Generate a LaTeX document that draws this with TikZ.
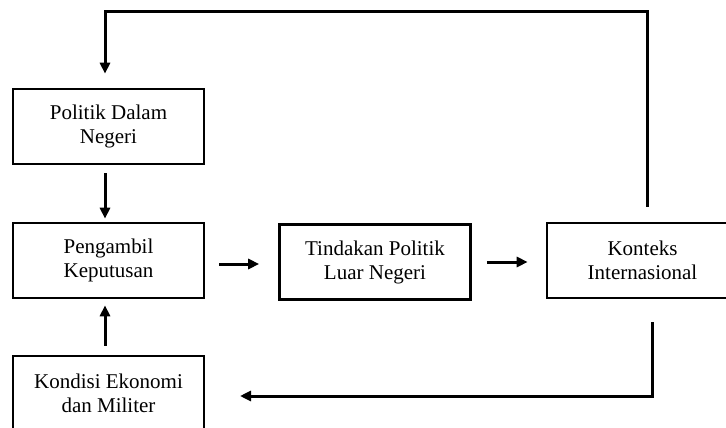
\documentclass[tikz,border=0pt]{standalone}
\usepackage{fontspec}
\setmainfont{Liberation Serif}
\usetikzlibrary{arrows.meta}
\begin{document}
\begin{tikzpicture}[x=1pt, y=-1pt,
    box/.style={draw, line width=2.6pt, minimum width=191pt, minimum height=75pt, align=center, inner sep=0pt, font=\fontsize{21}{24}\selectfont},
    arr/.style={line width=3pt, -{Triangle[length=11pt,width=10pt]}}]
        \useasboundingbox (0, 0) rectangle (726, 428);
        \clip (0, 0) rectangle (726, 428);

        \node[box] (pol) at (108.5, 126.5) {Politik Dalam\\Negeri};
        \node[box] (pen) at (108.5, 260.5) {Pengambil\\Keputusan};
        \node[box] (tin) at (375, 262) {Tindakan Politik\\Luar Negeri};
        \node[box] (kon) at (642.5, 260.5) {Konteks\\Internasional};
        \node[box] (kond) at (108.5, 393.5) {Kondisi Ekonomi\\dan Militer};

        \coordinate (top) at (647, 12);
        \coordinate (bot) at (652, 396);
        \coordinate (botend) at (240, 396);

        \draw[arr] ([xshift=-3.5pt, yshift=-8pt]pol.south) -- ([xshift=-3.5pt, yshift=3pt]pen.north);
        \draw[arr] ([xshift=-3.5pt, yshift=9pt]kond.north) -- ([xshift=-3.5pt, yshift=-6pt]pen.south);
        \draw[arr] ([xshift=14pt, yshift=-3.5pt]pen.east) -- ([xshift=-19pt, yshift=-2pt]tin.west);
        \draw[arr] ([xshift=15pt]tin.east) -- ([xshift=-18pt, yshift=-1.5pt]kon.west);
        \draw[arr] ([yshift=15pt]kon.north -| top) -- (top) -| ([xshift=-3.5pt, yshift=14pt]pol.north);
        \draw[arr] ([yshift=-23pt]kon.south -| bot) -- (bot) -- (botend);
    \end{tikzpicture}
\end{document}
